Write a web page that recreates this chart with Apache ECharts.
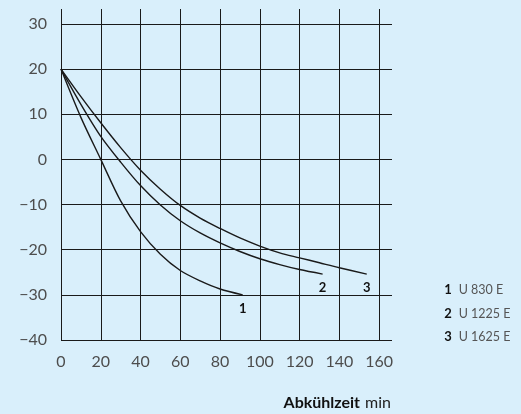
<!DOCTYPE html>
<html>
<head>
<meta charset="utf-8">
<script src="https://cdn.jsdelivr.net/npm/echarts@6/dist/echarts.min.js"></script>
<style>
html,body{margin:0;padding:0;background:#d9effb;}
#c{width:521px;height:414px;}
</style>
</head>
<body>
<div id="c"></div>
<script>
// Data (time in min, temperature in °C)
const seriesNames = ['U 830 E', 'U 1225 E', 'U 1625 E'];
const seriesIds = ['1', '2', '3'];
const curve1 = [[0,20],[10,9.3],[20,0],[30,-9.2],[40,-16.0],[50,-21.0],[60,-24.6],[70,-26.9],[80,-28.7],[91.4,-30]];
const curve2 = [[0,20],[10,12.2],[20,5.1],[30,-0.6],[40,-5.8],[50,-10.1],[60,-13.6],[70,-16.3],[80,-18.5],[90,-20.4],[100,-22.0],[110,-23.3],[120,-24.4],[131.6,-25.4]];
const curve3 = [[0,20],[10,13.9],[20,8.1],[30,2.6],[40,-2.4],[50,-6.6],[60,-10.2],[70,-13.0],[80,-15.3],[90,-17.4],[100,-19.2],[110,-20.7],[120,-21.8],[130,-22.9],[140,-24.0],[153.8,-25.4]];
const xTicks = [0,20,40,60,80,100,120,140,160];
const yTicks = [-40,-30,-20,-10,0,10,20,30];
const xTitleBold = 'Abkühlzeit';
const xTitleUnit = 'min';

const curves = [curve1, curve2, curve3];
const chart = echarts.init(document.getElementById('c'), null, {renderer:'canvas'});

const lineColor = '#1a1a1a';
const labelFont = 'Lato, "Open Sans", sans-serif';

const series = curves.map((c, i) => ({
  name: seriesNames[i],
  type: 'line',
  smooth: 0.3,
  symbol: 'circle',
  symbolSize: 0.01,
  showAllSymbol: true,
  lineStyle: {color: lineColor, width: 1.4},
  itemStyle: {color: lineColor},
  emphasis: {disabled: true},
  data: c.map((p, j) => j === c.length - 1
    ? {value: p, label: {show: true, position: 'bottom', distance: 7, formatter: seriesIds[i],
        color: '#111', fontWeight: 'bold', fontSize: 13, fontFamily: labelFont}}
    : p),
  z: 5
}));

chart.setOption({
  backgroundColor: '#d9effb',
  animation: false,
  title: {
    text: '{b|' + xTitleBold + '} {r|' + xTitleUnit + '}',
    right: 130,
    bottom: 3,
    padding: 0,
    textStyle: {
      rich: {
        b: {fontFamily: labelFont, fontWeight: 'bold', fontSize: 16, color: '#111', lineHeight: 20},
        r: {fontFamily: labelFont, fontWeight: 'normal', fontSize: 16, color: '#222', lineHeight: 20}
      }
    }
  },
  legend: {
    orient: 'vertical',
    left: 434,
    top: 278,
    icon: 'none',
    itemWidth: 0,
    itemHeight: 14,
    itemGap: 10,
    selectedMode: false,
    data: seriesNames,
    formatter: name => '{n|' + seriesIds[seriesNames.indexOf(name)] + '}  {t|' + name + '}',
    textStyle: {
      rich: {
        n: {fontFamily: labelFont, fontWeight: 'bold', fontSize: 13, color: '#111', width: 8, align: 'center'},
        t: {fontFamily: labelFont, fontSize: 12.5, color: '#555'}
      }
    }
  },
  grid: {left: 61, right: 129, top: 9, bottom: 74, containLabel: false},
  xAxis: {
    type: 'value',
    min: 0,
    max: 166.5,
    interval: 20,
    axisLine: {show: false},
    axisTick: {show: false},
    splitLine: {show: true, showMinLine: true, showMaxLine: false, lineStyle: {color: lineColor, width: 1}},
    axisLabel: {
      margin: 14,
      fontFamily: labelFont,
      fontSize: 16,
      color: '#4d4d4d',
      showMaxLabel: false,
      formatter: v => xTicks.includes(v) ? String(v) : ''
    }
  },
  yAxis: {
    type: 'value',
    min: -40,
    max: 33.3,
    interval: 10,
    axisLine: {show: false},
    axisTick: {show: false},
    splitLine: {show: true, showMinLine: true, showMaxLine: false, lineStyle: {color: lineColor, width: 1}},
    axisLabel: {
      margin: 14,
      fontFamily: labelFont,
      fontSize: 16,
      color: '#4d4d4d',
      showMaxLabel: false,
      formatter: v => yTicks.includes(v) ? (v < 0 ? '\u2212' + Math.abs(v) : String(v)) : ''
    }
  },
  series: series
});
</script>
</body>
</html>
